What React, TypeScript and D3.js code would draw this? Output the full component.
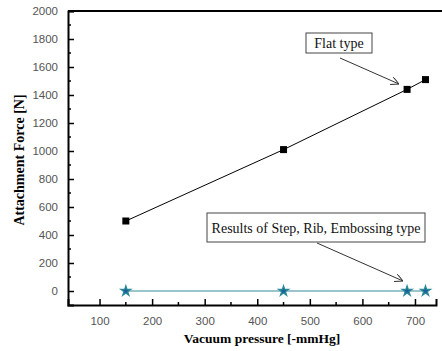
import { useRef, useEffect } from "react";
import * as d3 from "d3";

const pressures = [150, 450, 685, 720];
const flatForce = [500, 1010, 1440, 1510];
const otherForce = [0, 0, 0, 0];
const xTicks = [100, 200, 300, 400, 500, 600, 700];
const yTicks = [0, 200, 400, 600, 800, 1000, 1200, 1400, 1600, 1800, 2000];

export default function App() {
  const svgRef = useRef<SVGSVGElement>(null);

  useEffect(() => {
    if (!svgRef.current) return;
    const svg = d3.select(svgRef.current);
    svg.selectAll("*").remove();

    const width = 442;
    const height = 351;
    const margin = { top: 11, right: 4, bottom: 46, left: 68 };
    const innerWidth = width - margin.left - margin.right;
    const innerHeight = height - margin.top - margin.bottom;

    const g = svg
      .append("g")
      .attr("transform", `translate(${margin.left},${margin.top})`);

    const x = d3.scaleLinear().domain([40, 740]).range([0, innerWidth - 2]);
    const y = d3.scaleLinear().domain([-100, 2000]).range([innerHeight, 0]);

    // Axes (ticks inward)
    const xAxis = g
      .append("g")
      .attr("transform", `translate(0,${innerHeight})`)
      .call(
        d3.axisBottom(x).tickValues(xTicks).tickSize(-6).tickPadding(12).tickFormat(d3.format("d"))
      );
    xAxis.selectAll(".tick line").attr("stroke-width", 1.5);
    xAxis
      .selectAll(".minor")
      .data(d3.range(150, 740, 100))
      .join("line")
      .attr("x1", (d) => x(d))
      .attr("x2", (d) => x(d))
      .attr("y1", 0)
      .attr("y2", -3)
      .attr("stroke", "#000")
      .attr("stroke-width", 1.5);

    const yAxis = g
      .append("g")
      .call(
        d3.axisLeft(y).tickValues(yTicks).tickSize(-6).tickPadding(10).tickFormat(d3.format("d"))
      );
    yAxis.selectAll(".tick line").attr("stroke-width", 1.5);
    yAxis
      .selectAll(".minor")
      .data(d3.range(100, 2000, 200))
      .join("line")
      .attr("x1", 0)
      .attr("x2", 3)
      .attr("y1", (d) => y(d))
      .attr("y2", (d) => y(d))
      .attr("stroke", "#000")
      .attr("stroke-width", 1.5);

    [xAxis, yAxis].forEach((a) => {
      a.select(".domain").attr("stroke", "#000").attr("stroke-width", 2);
      a.selectAll(".tick text")
        .attr("fill", "#555")
        .attr("font-family", "Liberation Sans, Arial, sans-serif")
        .attr("font-size", "11.5px");
    });

    // top border
    g.append("line")
      .attr("x1", 0)
      .attr("x2", innerWidth + margin.right)
      .attr("y1", 0)
      .attr("y2", 0)
      .attr("stroke", "#000")
      .attr("stroke-width", 2);

    const flatData = pressures.map((p, i) => [p, flatForce[i]] as [number, number]);
    const otherData = pressures.map((p, i) => [p, otherForce[i]] as [number, number]);

    const line = d3
      .line<[number, number]>()
      .x((d) => x(d[0]))
      .y((d) => y(d[1]));

    g.append("path")
      .datum(otherData)
      .attr("d", line)
      .attr("fill", "none")
      .attr("stroke", "#3b8a98")
      .attr("stroke-width", 1.2);

    g.append("path")
      .datum(flatData)
      .attr("d", line)
      .attr("fill", "none")
      .attr("stroke", "#000")
      .attr("stroke-width", 1);

    g.selectAll(".sq")
      .data(flatData)
      .join("rect")
      .attr("x", (d) => x(d[0]) - 3.5)
      .attr("y", (d) => y(d[1]) - 3.5)
      .attr("width", 7)
      .attr("height", 7)
      .attr("fill", "#000");

    const star = d3.symbol().type(d3.symbolStar).size(32);
    g.selectAll(".star")
      .data(otherData)
      .join("path")
      .attr("d", star)
      .attr("transform", (d) => `translate(${x(d[0])},${y(d[1])})`)
      .attr("fill", "#1a5f96")
      .attr("stroke", "#2a8a9a")
      .attr("stroke-width", 1.2);

    // Annotations
    const defs = svg.append("defs");
    defs
      .append("marker")
      .attr("id", "arr")
      .attr("viewBox", "0 0 10 10")
      .attr("refX", 10)
      .attr("refY", 5)
      .attr("markerWidth", 8)
      .attr("markerHeight", 8)
      .attr("orient", "auto")
      .append("path")
      .attr("d", "M0,0 L10,5 L0,10")
      .attr("fill", "none")
      .attr("stroke", "#333")
      .attr("stroke-width", 1.2);

    const notes = [
      { text: "Flat type", box: [306, 33, 66, 20], from: [340, 58], to: [399, 84] },
      {
        text: "Results of Step, Rib, Embossing type",
        box: [207, 213, 218, 29],
        from: [317, 243],
        to: [403, 281],
      },
    ];
    notes.forEach((n) => {
      const [bx, by, bw, bh] = n.box;
      svg
        .append("rect")
        .attr("x", bx)
        .attr("y", by)
        .attr("width", bw)
        .attr("height", bh)
        .attr("fill", "#fff")
        .attr("stroke", "#444")
        .attr("stroke-width", 1);
      svg
        .append("text")
        .attr("x", bx + bw / 2)
        .attr("y", by + bh / 2 + 5)
        .attr("text-anchor", "middle")
        .attr("font-family", "'Liberation Serif', 'Times New Roman', serif")
        .attr("font-size", "14px")
        .attr("fill", "#111")
        .text(n.text);
      svg
        .append("line")
        .attr("x1", n.from[0])
        .attr("y1", n.from[1])
        .attr("x2", n.to[0])
        .attr("y2", n.to[1])
        .attr("stroke", "#333")
        .attr("stroke-width", 1)
        .attr("marker-end", "url(#arr)");
    });

    // Axis titles
    svg
      .append("text")
      .attr("x", 262)
      .attr("y", 343)
      .attr("text-anchor", "middle")
      .attr("font-family", "'Liberation Serif', 'Times New Roman', serif")
      .attr("font-weight", "bold")
      .attr("font-size", "13.5px")
      .text("Vacuum pressure [-mmHg]");

    svg
      .append("text")
      .attr("transform", "rotate(-90)")
      .attr("x", -160)
      .attr("y", 24)
      .attr("text-anchor", "middle")
      .attr("font-family", "'Liberation Serif', 'Times New Roman', serif")
      .attr("font-weight", "bold")
      .attr("font-size", "14px")
      .text("Attachment Force [N]");
  }, []);

  return (
    <div style={{ position: "absolute", left: 0, top: 0 }}>
      <svg ref={svgRef} width={442} height={351} style={{ display: "block", background: "#fff" }} />
    </div>
  );
}
